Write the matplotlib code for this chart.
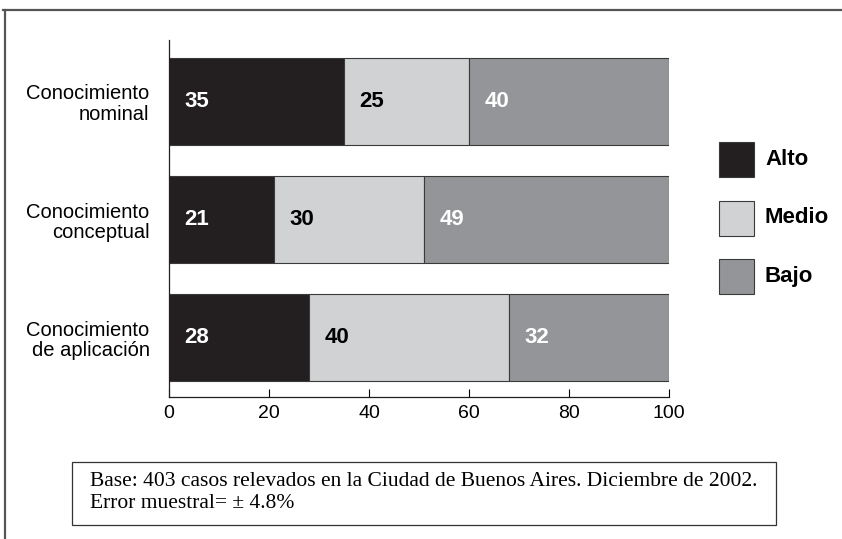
import numpy as np
import matplotlib.pyplot as plt
from matplotlib.patches import Rectangle
from matplotlib.lines import Line2D

categories = ["Conocimiento\nnominal", "Conocimiento\nconceptual", "Conocimiento\nde aplicación"]
levels = ["Alto", "Medio", "Bajo"]
alto = [35, 21, 28]
medio = [25, 30, 40]
bajo = [40, 49, 32]
xticks = [0, 20, 40, 60, 80, 100]

colors = ["#231f20", "#d1d2d4", "#939598"]
text_colors = ["white", "black", "white"]

plt.rcParams['font.family'] = ['Liberation Sans', 'DejaVu Sans']

fig = plt.figure(figsize=(8.42, 5.39), dpi=100)
W, H = 842, 539
ax = fig.add_axes([169 / W, 1 - 397 / H, 500 / W, (397 - 40) / H])

y = np.arange(len(categories))
left = np.zeros(len(categories))
for vals, c, tc in zip([alto, medio, bajo], colors, text_colors):
    vals = np.array(vals)
    bars = ax.barh(y, vals, left=left, height=0.735, color=c,
                   edgecolor="#3a3a3a", linewidth=0.8)
    for b, v in zip(bars, vals):
        ax.annotate(str(v), (b.get_x(), b.get_y() + b.get_height() / 2),
                    xytext=(11, 0), textcoords="offset points",
                    ha="left", va="center", fontsize=16, fontweight="bold", color=tc)
    left += vals

ax.set_xlim(0, 100)
ax.set_ylim(2.5, -0.52)
ax.set_xticks(xticks)
ax.set_yticks(y)
ax.set_yticklabels(categories, fontsize=14.5, linespacing=1.1)
ax.tick_params(axis="y", length=0, pad=14)
ax.tick_params(axis="x", direction="in", length=6, width=0.8, labelsize=14, pad=6)
for s in ["top", "right"]:
    ax.spines[s].set_visible(False)
for s in ["left", "bottom"]:
    ax.spines[s].set_linewidth(0.9)
    ax.spines[s].set_color("#231f20")

# legend squares with bold labels
for i, (lab, c) in enumerate(zip(levels, colors)):
    top = 142 + i * 58.5
    fig.add_artist(Rectangle((719 / W, 1 - (top + 35) / H), 35 / W, 35 / H,
                             transform=fig.transFigure, facecolor=c,
                             edgecolor="#3a3a3a", linewidth=0.8))
    fig.text(765 / W, 1 - (top + 17.5) / H, lab, ha="left", va="center",
             fontsize=16, fontweight="bold")

# outer frame: top and left edges only
fig.add_artist(Line2D([3 / W, 1], [1 - 9.5 / H, 1 - 9.5 / H], color="#555555", linewidth=1.6))
fig.add_artist(Line2D([5 / W, 5 / W], [0, 1 - 9.5 / H], color="#555555", linewidth=1.6))

# note box
fig.add_artist(Rectangle((72 / W, 1 - 525 / H), (776 - 72) / W, (525 - 462) / H,
                         transform=fig.transFigure, fill=False,
                         edgecolor="#333333", linewidth=0.9))
fig.text(90 / W, 1 - 481 / H,
         "Base: 403 casos relevados en la Ciudad de Buenos Aires. Diciembre de 2002.",
         ha="left", va="center", fontsize=15.5, family="Liberation Serif")
fig.text(90 / W, 1 - 504 / H, "Error muestral= ± 4.8%",
         ha="left", va="center", fontsize=15.5, family="Liberation Serif")

fig.savefig("out.png", dpi=100)
